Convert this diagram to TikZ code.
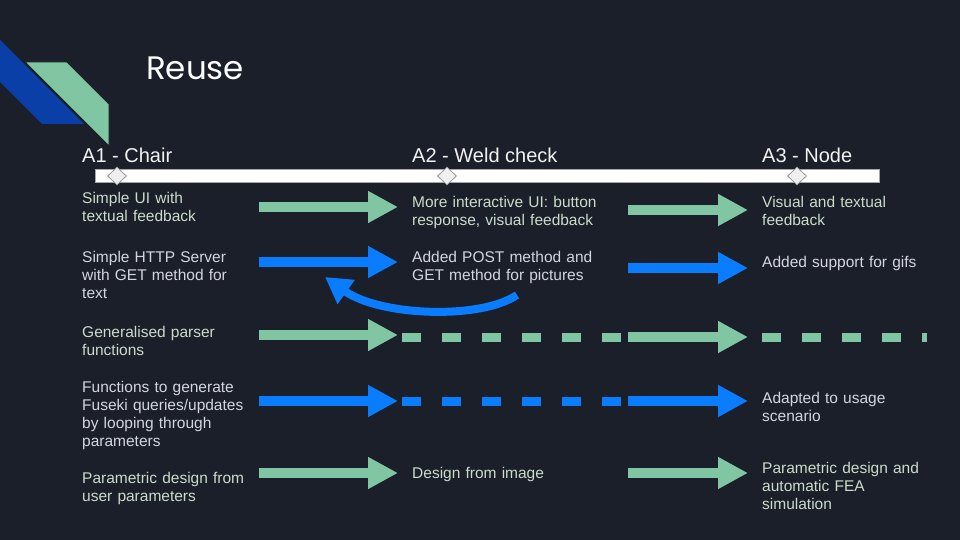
\documentclass[tikz,border=0pt]{standalone}
\usepackage{fontspec}
\setmainfont{Liberation Sans}
\newfontfamily\titlefont{Poppins}
\usetikzlibrary{arrows.meta,shapes.geometric}
\definecolor{slidebg}{HTML}{1B1F2A}
\definecolor{mint}{HTML}{80C6A3}
\definecolor{azure}{HTML}{0A7DFF}
\definecolor{navy}{HTML}{0A3FA8}
\definecolor{minttext}{HTML}{CBDCC9}
\definecolor{greytext}{HTML}{D3D6DE}
\begin{document}
\begin{tikzpicture}[
		x=1pt, y=-1pt,
		heading/.style={anchor=base west, inner sep=0, text=white!95!black, font=\fontsize{20}{24}\selectfont},
		item/.style={anchor=base west, inner sep=0, align=left, font=\fontsize{15.5}{18}\selectfont},
		first/.style={item, text width=177pt},
		second/.style={item, text width=216pt},
		third/.style={item, text width=190pt},
		gtext/.style={text=minttext},
		btext/.style={text=greytext},
		fat/.style={line width=10pt, -{Triangle[length=30pt,width=30pt]}, shorten >=14pt},
		garrow/.style={fat, draw=mint},
		barrow/.style={fat, draw=azure},
		gap/.style={line width=9pt, dash pattern=on 19pt off 21pt},
		milestone/.style={diamond, draw=gray!80, line width=0.8pt, fill=gray!12, inner sep=0, minimum width=19pt, minimum height=18pt}
	]
	\useasboundingbox[fill=slidebg] (0,0) rectangle (960,540);

	% logo and title
	\fill[navy] (0,40) -- (84,124) -- (42,124) -- (0,82) -- cycle;
	\filldraw[fill=mint, draw=slidebg, line width=1pt] (25,62) -- (67,62) -- (109,104) -- (109,146) -- cycle;
	\node[anchor=base west, inner sep=0, text=white, font=\titlefont\fontsize{32.5}{38}\selectfont] (title) at (146,80) {Reuse};

	% timeline
	\draw[fill=white, draw=gray!70] (95,169) rectangle (879,182);
	\node[milestone] (m1) at (117,176) {};
	\node[milestone] (m2) at (447,176) {};
	\node[milestone] (m3) at (797,176) {};
	\node[heading] (h1) at (82,163) {A1 - Chair};
	\node[heading] (h2) at (412,163) {A2 - Weld check};
	\node[heading] (h3) at (762,163) {A3 - Node};

	% first column
	\node[first, gtext] (c1) at (82,203) {Simple UI with\\textual feedback};
	\node[first, btext] (c2) at (82,262) {Simple HTTP Server\\with GET method for\\text};
	\node[first, gtext] (c3) at (82,337) {Generalised parser\\functions};
	\node[first, btext] (c4) at (82,392) {Functions to generate\\Fuseki queries/updates\\by looping through\\parameters};
	\node[first, gtext] (c5) at (82,483) {Parametric design from\\user parameters};

	% second column
	\node[second, gtext] (w1) at (412,207) {More interactive UI: button\\response, visual feedback};
	\node[second, btext] (w2) at (412,262) {Added POST method and\\GET method for pictures};
	\node[second, gtext] (w5) at (412,478) {Design from image};

	% third column
	\node[third, gtext] (n1) at (762,207) {Visual and textual\\feedback};
	\node[third, btext] (n2) at (762,267) {Added support for gifs};
	\node[third, btext] (n4) at (762,403) {Adapted to usage\\scenario};
	\node[third, gtext] (n5) at (762,473) {Parametric design and\\automatic FEA\\simulation};

	% arrow heights
	\coordinate (r1) at (0,207);
	\coordinate (r1b) at (0,210);
	\coordinate (r2) at (0,262);
	\coordinate (r2b) at (0,268);
	\coordinate (r3) at (0,335);
	\coordinate (r3b) at (0,337);
	\coordinate (r4) at (0,401);
	\coordinate (r5) at (0,473);
	\coordinate (d3) at (402,337);
	\coordinate (d4) at (402,401);
	\coordinate (e3) at (927,337);

	\draw[garrow] (c1.east |- r1) -- (w1.west |- r1);
	\draw[garrow] (w1.east |- r1b) -- (n1.west |- r1b);
	\draw[barrow] (c2.east |- r2) -- (w2.west |- r2);
	\draw[barrow] (w2.east |- r2b) -- (n2.west |- r2b);

	% reused without change
	\draw[garrow] (c3.east |- r3) -- (w1.west |- r3);
	\draw[gap, mint] (d3) -- (w1.east |- r3b);
	\draw[garrow] (w1.east |- r3b) -- (n1.west |- r3b);
	\draw[gap, mint] (n1.west |- r3b) -- (e3);
	\draw[barrow] (c4.east |- r4) -- (w1.west |- r4);
	\draw[gap, azure] (d4) -- (w1.east |- r4);
	\draw[barrow] (w1.east |- r4) -- (n4.west |- r4);

	\draw[garrow] (c5.east |- r5) -- (w5.west |- r5);
	\draw[garrow] (w5.east |- r5) -- (n5.west |- r5);

	% back to A1
	\coordinate (loopstart) at (517,295);
	\coordinate (looptip) at (325,277);
	\draw[azure, line width=8pt, -{Triangle[length=26pt,width=28pt]}] (loopstart) .. controls (480,320) and (380,316) .. (looptip);
\end{tikzpicture}
\end{document}
